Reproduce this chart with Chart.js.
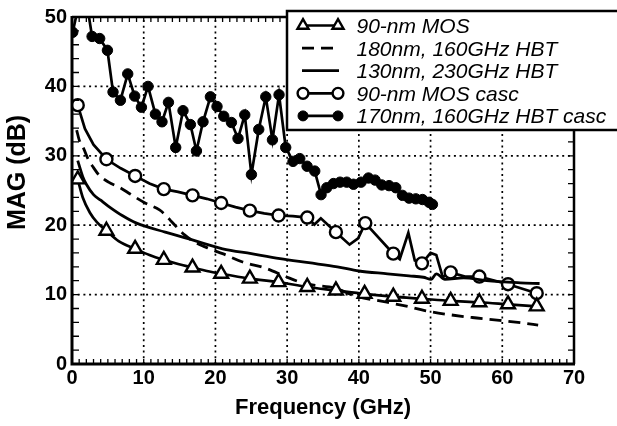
<!DOCTYPE html>
<html><head><meta charset="utf-8">
<script src="https://cdn.jsdelivr.net/npm/chart.js@4.4.1/dist/chart.umd.min.js"></script>
<style>html,body{margin:0;padding:0;background:#fff;}canvas{display:block;}</style>
</head><body>
<canvas id="c" width="617" height="426"></canvas>
<script>
// ---------- data (frequency GHz, MAG dB) ----------
const seriesLabels = ['90-nm MOS', '180nm, 160GHz HBT', '130nm, 230GHz HBT', '90-nm MOS casc', '170nm, 160GHz HBT casc'];

const mos90 = [[0.8,26.6],[1.5,24.0],[2.5,21.8],[3.5,20.4],[4.8,19.2],[6.5,17.7],[8.8,16.6],[10.8,15.7],[12.8,15.0],[14.8,14.4],[16.8,13.9],[18.8,13.4],[20.8,13.0],[24.8,12.3],[28.8,11.8],[32.8,11.1],[36.8,10.6],[40.8,10.1],[44.8,9.7],[48.8,9.4],[52.8,9.1],[56.8,8.9],[60.8,8.6],[64.8,8.3]];
const mos90Marks = [0.8,4.8,8.8,12.8,16.8,20.8,24.8,28.8,32.8,36.8,40.8,44.8,48.8,52.8,56.8,60.8,64.8];

const hbt180 = [[0.65,33.7],[1.0,32.3],[1.6,31.1],[2.3,29.4],[3.0,28.3],[3.7,27.3],[5.1,26.2],[6.7,25.4],[8.1,24.5],[10.2,23.2],[12.2,22.2],[13.2,21.3],[13.9,20.5],[15.7,18.6],[16.9,17.7],[19.2,16.6],[21.0,15.9],[23.8,14.7],[27.0,13.8],[29.8,12.6],[31.8,11.8],[33.5,11.4],[36.8,10.9],[39.2,9.9],[43.9,8.9],[46.8,8.3],[49.2,7.7],[52.0,7.2],[55.8,6.7],[59.6,6.3],[62.9,5.9],[65.0,5.6]];

const hbt130 = [[0.8,29.3],[1.5,27.0],[2.0,25.9],[3.0,24.4],[4.0,23.6],[5.0,22.8],[7.0,21.4],[9.0,20.3],[13.0,19.0],[17.0,17.8],[21.0,16.6],[25.0,15.9],[29.0,15.2],[33.0,14.6],[37.0,14.0],[40.0,13.4],[44.0,13.0],[47.0,12.7],[49.0,12.5],[50.1,12.2],[50.8,13.0],[52.0,12.2],[54.6,12.4],[57.8,12.0],[62.5,11.7],[65.2,11.6]];

const mos90casc = [[0.8,37.3],[1.8,33.9],[3.0,31.6],[4.8,29.5],[6.8,28.2],[8.8,27.1],[10.8,26.0],[12.8,25.2],[14.8,24.8],[16.8,24.3],[18.8,23.8],[20.8,23.2],[22.8,22.6],[24.8,22.1],[26.8,21.7],[28.8,21.4],[30.8,21.3],[32.8,21.1],[33.8,20.1],[34.7,21.0],[36.8,19.0],[38.7,17.2],[39.9,18.1],[40.9,20.3],[44.8,15.9],[45.7,15.1],[46.9,18.9],[47.8,14.9],[48.8,14.5],[50.0,16.0],[50.8,15.7],[51.7,12.5],[52.8,13.2],[54.8,12.6],[56.8,12.6],[60.8,11.5],[64.8,10.2]];
const mos90cascMarks = [0.8,4.8,8.8,12.8,16.8,20.8,24.8,28.8,32.8,36.8,40.9,44.8,48.8,52.8,56.8,60.8,64.8];

const hbt170casc = [[0.1,47.8],[1.6,55.0],[2.8,47.2],[3.86,46.9],[4.94,45.2],[5.72,39.2],[6.75,38.0],[7.77,41.8],[8.74,38.6],[9.68,37.0],[10.6,40.0],[11.63,36.0],[12.55,34.9],[13.45,37.7],[14.46,31.2],[15.48,36.5],[16.51,34.5],[17.35,30.7],[18.27,34.9],[19.3,38.5],[20.22,37.1],[21.16,35.7],[22.23,34.8],[23.15,32.5],[24.09,35.9],[25.02,27.3],[26.04,33.8],[27.02,38.5],[27.95,32.3],[28.87,38.8],[29.8,31.2],[30.82,29.2],[31.76,29.6],[32.78,28.5],[33.85,27.8],[34.73,24.4],[35.52,25.4],[36.46,26.0],[37.38,26.2],[38.31,26.2],[39.25,25.9],[40.31,26.2],[41.34,26.8],[42.26,26.5],[43.19,25.8],[44.21,25.7],[45.15,25.4],[46.08,24.3],[47.0,23.9],[47.94,23.8],[48.87,23.7],[49.79,23.3],[50.26,23.0]];

const xTickLabels = ['0','10','20','30','40','50','60','70'];
const yTickLabels = ['0','10','20','30','40','50'];
const xTitle = 'Frequency (GHz)';
const yTitle = 'MAG (dB)';

// ---------- helpers ----------
const FONT = "'Liberation Sans', Arial, Helvetica, sans-serif";
const toXY = arr => arr.map(p => ({x: p[0], y: p[1]}));
const marked = (list, r) => c => (c.raw && list.some(f => Math.abs(f - c.raw.x) < 1e-6)) ? r : 0;

const datasets = [
  {label: seriesLabels[0], data: toXY(mos90), borderColor:'#000', backgroundColor:'#fff', borderWidth:2.7,
   pointStyle:'triangle', pointRadius: marked(mos90Marks, 8), pointBorderWidth:2.4, pointBackgroundColor:'#fff', pointBorderColor:'#000', cubicInterpolationMode:'monotone'},
  {label: seriesLabels[1], data: toXY(hbt180), borderColor:'#000', borderWidth:2.8, borderDash:[12,7],
   pointRadius:0, cubicInterpolationMode:'monotone'},
  {label: seriesLabels[2], data: toXY(hbt130), borderColor:'#000', borderWidth:2.8,
   pointRadius:0, cubicInterpolationMode:'monotone'},
  {label: seriesLabels[3], data: toXY(mos90casc), borderColor:'#000', backgroundColor:'#fff', borderWidth:2.7,
   pointStyle:'circle', pointRadius: marked(mos90cascMarks, 6), pointBorderWidth:2.4, pointBackgroundColor:'#fff', pointBorderColor:'#000'},
  {label: seriesLabels[4], data: toXY(hbt170casc), borderColor:'#000', backgroundColor:'#000', borderWidth:2.7,
   pointStyle:'circle', pointRadius: c => (c.raw && c.raw.y <= 50) ? 5.2 : 0, pointBorderWidth:1, pointBackgroundColor:'#000', pointBorderColor:'#000'}
];

// grid, inward ticks, frame
const framePlugin = {
  id: 'frame',
  beforeDatasetsDraw(chart) {
    const {ctx, chartArea: a, scales: {x, y}} = chart;
    ctx.save();
    ctx.strokeStyle = '#000';
    ctx.lineWidth = 1.7;
    ctx.setLineDash([2, 3.7]);
    x.ticks.forEach(t => {
      if (t.value <= x.min || t.value >= x.max) return;
      const px = x.getPixelForValue(t.value);
      ctx.beginPath(); ctx.moveTo(px, a.bottom); ctx.lineTo(px, a.top); ctx.stroke();
    });
    y.ticks.forEach(t => {
      if (t.value <= y.min || t.value >= y.max) return;
      const py = y.getPixelForValue(t.value);
      ctx.beginPath(); ctx.moveTo(a.left, py); ctx.lineTo(a.right, py); ctx.stroke();
    });
    ctx.restore();
  },
  afterDatasetsDraw(chart) {
    const {ctx, chartArea: a, scales: {x, y}} = chart;
    ctx.save();
    ctx.strokeStyle = '#000';
    ctx.setLineDash([]);
    ctx.lineWidth = 1.3;
    ctx.beginPath();
    for (let v = x.min; v <= x.max; v += 1) {
      const px = x.getPixelForValue(v);
      ctx.moveTo(px, a.bottom); ctx.lineTo(px, a.bottom - 5);
      ctx.moveTo(px, a.top); ctx.lineTo(px, a.top + 5);
    }
    for (let v = y.min; v <= y.max; v += 2) {
      const py = y.getPixelForValue(v);
      ctx.moveTo(a.left, py); ctx.lineTo(a.left + 7, py);
      ctx.moveTo(a.right, py); ctx.lineTo(a.right - 6, py);
    }
    ctx.stroke();
    ctx.lineWidth = 2.5;
    ctx.beginPath(); ctx.moveTo(a.left, a.top); ctx.lineTo(a.right, a.top); ctx.lineTo(a.right, a.bottom); ctx.stroke();
    ctx.lineWidth = 3;
    ctx.beginPath(); ctx.moveTo(a.left, a.top - 1); ctx.lineTo(a.left, a.bottom); ctx.lineTo(a.right + 1, a.bottom); ctx.stroke();
    // y title
    ctx.fillStyle = '#000';
    ctx.font = 'bold 25px ' + FONT;
    ctx.textAlign = 'center';
    ctx.textBaseline = 'alphabetic';
    ctx.translate(25, 172.5);
    ctx.rotate(-Math.PI / 2);
    ctx.fillText(yTitle, 0, 0);
    ctx.restore();
  }
};

// boxed legend inside plot, top right
const legendPlugin = {
  id: 'boxLegend',
  afterDraw(chart) {
    const {ctx} = chart;
    const L = {left: 287, top: 11, right: 640, bottom: 130};
    ctx.save();
    ctx.fillStyle = '#fff';
    ctx.fillRect(L.left, L.top, L.right - L.left, L.bottom - L.top);
    ctx.strokeStyle = '#000';
    ctx.lineWidth = 2.5;
    ctx.strokeRect(L.left, L.top, L.right - L.left, L.bottom - L.top);
    chart.data.datasets.forEach((ds, i) => {
      const yr = 25.5 + i * 22.6;
      const x0 = 302, x1 = ds.borderDash ? 334 : 339;
      ctx.strokeStyle = '#000';
      ctx.lineWidth = ds.borderWidth;
      ctx.setLineDash(ds.borderDash || []);
      ctx.beginPath(); ctx.moveTo(x0, yr); ctx.lineTo(x1, yr); ctx.stroke();
      ctx.setLineDash([]);
      if (ds.pointStyle) {
        const r = i === 0 ? 6.4 : (i === 3 ? 5.4 : 5.0);
        ctx.fillStyle = ds.pointBackgroundColor;
        ctx.strokeStyle = '#000';
        ctx.lineWidth = ds.pointBorderWidth;
        [303, 338].forEach(px => Chart.helpers.drawPoint(ctx, {pointStyle: ds.pointStyle, radius: r, rotation: 0, borderWidth: ds.pointBorderWidth}, px, yr));
      }
      ctx.fillStyle = '#000';
      ctx.font = 'italic 21px ' + FONT;
      ctx.textAlign = 'left';
      ctx.textBaseline = 'alphabetic';
      ctx.fillText(ds.label, 356.5, yr + 7.5);
    });
    ctx.restore();
  }
};

new Chart(document.getElementById('c'), {
  type: 'scatter',
  data: {datasets: datasets.map(d => Object.assign({showLine: true}, d))},
  plugins: [framePlugin, legendPlugin],
  options: {
    responsive: false,
    animation: false,
    devicePixelRatio: 1,
    layout: {padding: {top: 11, right: 43, left: 0, bottom: 0}},
    plugins: {legend: {display: false}, tooltip: {enabled: false}},
    scales: {
      x: {
        type: 'linear', min: 0, max: 70,
        grid: {display: false, drawTicks: false},
        border: {display: false},
        ticks: {stepSize: 10, color: '#000', padding: 2, maxRotation: 0,
          font: {family: FONT, size: 20, weight: 'bold'},
          callback: (v, i) => xTickLabels[i]},
        title: {display: true, text: xTitle, color: '#000', padding: {top: 0, bottom: 5},
          font: {family: FONT, size: 22, weight: 'bold'}},
        afterFit: s => { s.height = 62; }
      },
      y: {
        type: 'linear', min: 0, max: 50,
        grid: {display: false, drawTicks: false},
        border: {display: false},
        ticks: {stepSize: 10, color: '#000', padding: 5,
          font: {family: FONT, size: 20, weight: 'bold'},
          callback: (v, i) => yTickLabels[i]},
        afterFit: s => { s.width = 72; }
      }
    }
  }
});
</script>
</body></html>
